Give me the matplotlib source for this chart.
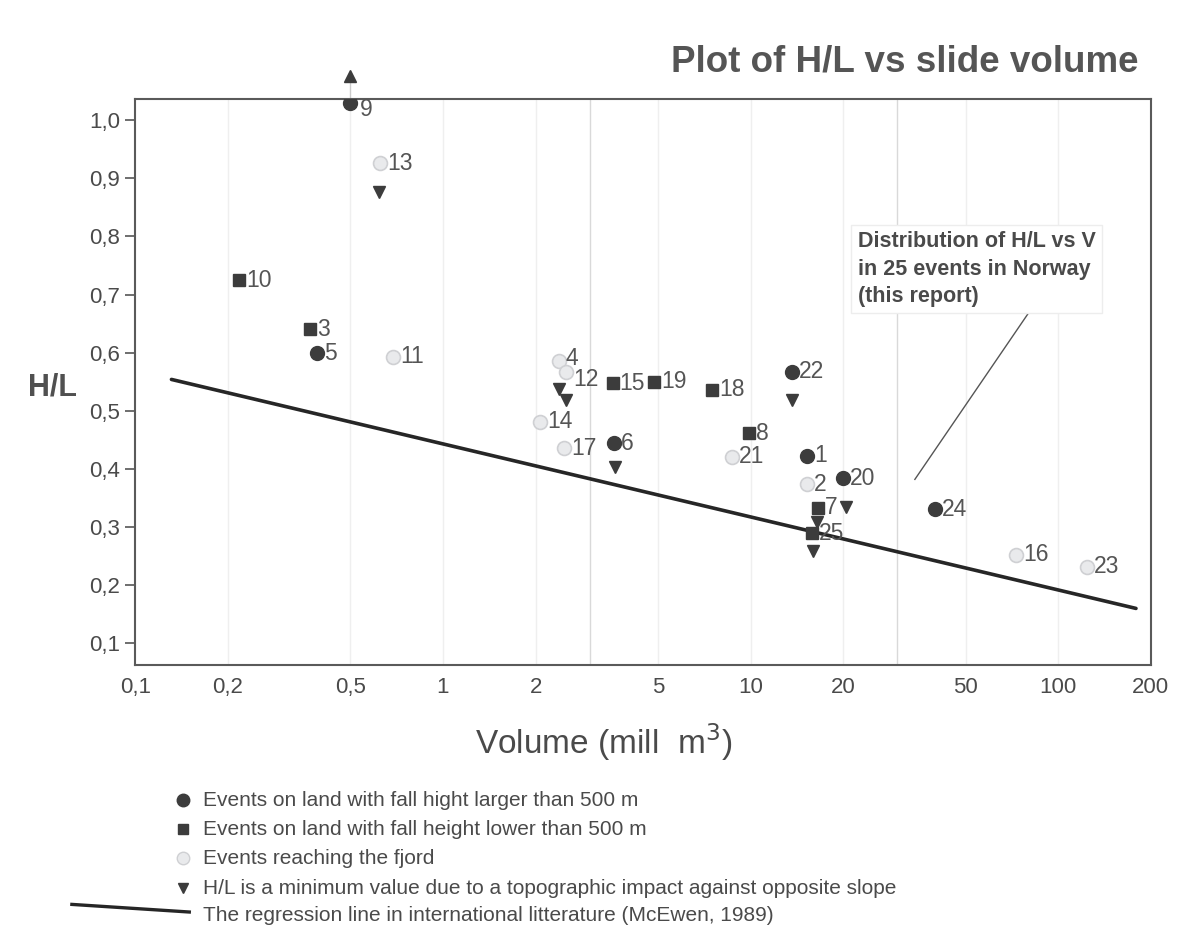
"""H/L versus slide volume for 25 rock slide events in Norway."""

import matplotlib

matplotlib.use("Agg")
import matplotlib.pyplot as plt
import numpy as np
from matplotlib.lines import Line2D

plt.rcParams["font.family"] = ["Liberation Sans", "DejaVu Sans"]

# events on land, fall height > 500 m (dark circles)
high_ids = ["9", "5", "22", "6", "1", "20", "24"]
high_vol = [0.50, 0.39, 13.6, 3.6, 15.3, 19.9, 39.8]
high_hl = [1.030, 0.599, 0.567, 0.444, 0.423, 0.384, 0.331]

# events on land, fall height < 500 m (dark squares)
low_ids = ["10", "3", "15", "19", "18", "8", "7", "25"]
low_vol = [0.218, 0.370, 3.56, 4.85, 7.5, 9.9, 16.6, 15.8]
low_hl = [0.725, 0.640, 0.547, 0.550, 0.536, 0.461, 0.333, 0.289]

# events reaching the fjord (light circles)
fjord_ids = ["13", "11", "4", "12", "14", "17", "21", "2", "16", "23"]
fjord_vol = [0.624, 0.689, 2.38, 2.52, 2.07, 2.48, 8.7, 15.2, 72.9, 123.8]
fjord_hl = [0.926, 0.593, 0.586, 0.566, 0.481, 0.436, 0.421, 0.374, 0.252, 0.232]

# H/L is a minimum value (down triangles), and the one upward arrow (event 9)
min_vol = [0.62, 2.38, 2.52, 13.6, 3.62, 20.4, 16.5, 15.9]
min_hl = [0.877, 0.537, 0.519, 0.519, 0.404, 0.335, 0.309, 0.258]
up_vol = [0.50]
up_hl = [1.076]

# McEwen (1989) regression line
reg_vol = [0.131, 179.0]
reg_hl = [0.554, 0.160]

xticks = [0.1, 0.2, 0.5, 1, 2, 5, 10, 20, 50, 100, 200]
xtick_labels = ["0,1", "0,2", "0,5", "1", "2", "5", "10", "20", "50", "100", "200"]
yticks = [0.1, 0.2, 0.3, 0.4, 0.5, 0.6, 0.7, 0.8, 0.9, 1.0]
ytick_labels = ["0,1", "0,2", "0,3", "0,4", "0,5", "0,6", "0,7", "0,8", "0,9", "1,0"]
grid_faint = [0.2, 0.5, 1, 2, 5, 10, 20, 50, 100]
grid_strong = [3, 30]

DARK = "#3c3c3c"
TEXT = "#4a4a4a"
LIGHT_FILL = "#e9eaec"
LIGHT_EDGE = "#cfd0d3"

# label nudges (points) where the reference shifts a number off-centre
label_nudge = {"9": (7, -5), "12": (5, -5), "4": (5, 2)}

fig = plt.figure(figsize=(11.98, 9.52), dpi=100)
ax = fig.add_axes([0.1130, 0.3015, 0.8476, 0.5942])

ax.set_xscale("log")
ax.set_xlim(0.1, 200)
ax.set_ylim(0.0627, 1.036)

for gx in grid_faint:
    ax.axvline(gx, color="#efefef", lw=1.0, zorder=0)
for gx in grid_strong:
    ax.axvline(gx, color="#d9d9d9", lw=1.0, zorder=0)

ax.plot(reg_vol, reg_hl, color="#262626", lw=2.6, solid_capstyle="round", zorder=2)

ax.plot(high_vol, high_hl, "o", ms=10, color=DARK, mec=DARK, zorder=4)
ax.plot(low_vol, low_hl, "s", ms=8, color=DARK, mec=DARK, zorder=4)
ax.plot(fjord_vol, fjord_hl, "o", ms=10, color=LIGHT_FILL, mec=LIGHT_EDGE,
        mew=1.2, zorder=4)
ax.plot(min_vol, min_hl, "v", ms=8, color=DARK, zorder=3)
ax.plot([up_vol[0], up_vol[0]], [high_hl[0], up_hl[0]], color="#cccccc",
        lw=1.0, clip_on=False, zorder=2)
ax.plot(up_vol, up_hl, "^", ms=8, color=DARK, clip_on=False, zorder=3)

for ids, vols, hls in [(high_ids, high_vol, high_hl),
                       (low_ids, low_vol, low_hl),
                       (fjord_ids, fjord_vol, fjord_hl)]:
    for lab, v, h in zip(ids, vols, hls):
        off = label_nudge.get(lab, (5, 0))
        ax.annotate(lab, (v, h), xytext=off, textcoords="offset points",
                    ha="left", va="center", fontsize=16.5, color="#555555",
                    zorder=5, annotation_clip=False)

# annotation box with pointer
ax.plot([34.2, 80.0], [0.382, 0.668], color="#555555", lw=1.0, zorder=2)
ax.text(22.3, 0.744, "Distribution of H/L vs V\nin 25 events in Norway\n(this report)",
        ha="left", va="center", fontsize=15.5, fontweight="bold", color=TEXT,
        linespacing=1.38, zorder=5,
        bbox=dict(facecolor="white", edgecolor="#ededed", pad=5))

ax.set_xticks(xticks)
ax.set_xticklabels(xtick_labels)
ax.xaxis.set_minor_locator(matplotlib.ticker.NullLocator())
ax.set_yticks(yticks)
ax.set_yticklabels(ytick_labels)
ax.tick_params(axis="x", length=0, pad=9, labelsize=16, labelcolor=TEXT)
ax.tick_params(axis="y", length=7, width=1.2, color="#555555", pad=4,
               labelsize=16, labelcolor=TEXT)
for sp in ax.spines.values():
    sp.set_color("#5a5a5a")
    sp.set_linewidth(1.5)

ax.set_xlabel("Volume (mill  m$^3$)", fontsize=24, color=TEXT)
ax.xaxis.set_label_coords(0.461, -0.099)
ax.set_ylabel("H/L", fontsize=22, fontweight="bold", color="#505050",
              rotation=0, va="center", ha="center")
ax.yaxis.set_label_coords(-0.082, 0.49)

fig.text(0.950, 0.935, "Plot of H/L vs slide volume", ha="right", va="center",
         fontsize=26.5, fontweight="bold", color="#555555")

# legend drawn below the axes
legend_rows = [
    ("o", DARK, DARK, 9, "Events on land with fall hight larger than 500 m"),
    ("s", DARK, DARK, 7, "Events on land with fall height lower than 500 m"),
    ("o", LIGHT_FILL, LIGHT_EDGE, 9, "Events reaching the fjord"),
    ("v", DARK, DARK, 7, "H/L is a minimum value due to a topographic impact against opposite slope"),
]
leg_y = [0.1595, 0.1290, 0.0985, 0.0670]
for (mk, fc, ec, ms, txt), y in zip(legend_rows, leg_y):
    fig.add_artist(Line2D([0.1528], [y], transform=fig.transFigure, marker=mk,
                          ms=ms, color=fc, mec=ec, ls="none"))
    fig.text(0.1695, y, txt, ha="left", va="center", fontsize=15, color=TEXT)
fig.add_artist(Line2D([0.060, 0.158], [0.0500, 0.0420], transform=fig.transFigure,
                      color="#262626", lw=2.4))
fig.text(0.1695, 0.0385, "The regression line in international litterature (McEwen, 1989)",
         ha="left", va="center", fontsize=15, color=TEXT)

fig.savefig("out.png", dpi=100, facecolor="white")
